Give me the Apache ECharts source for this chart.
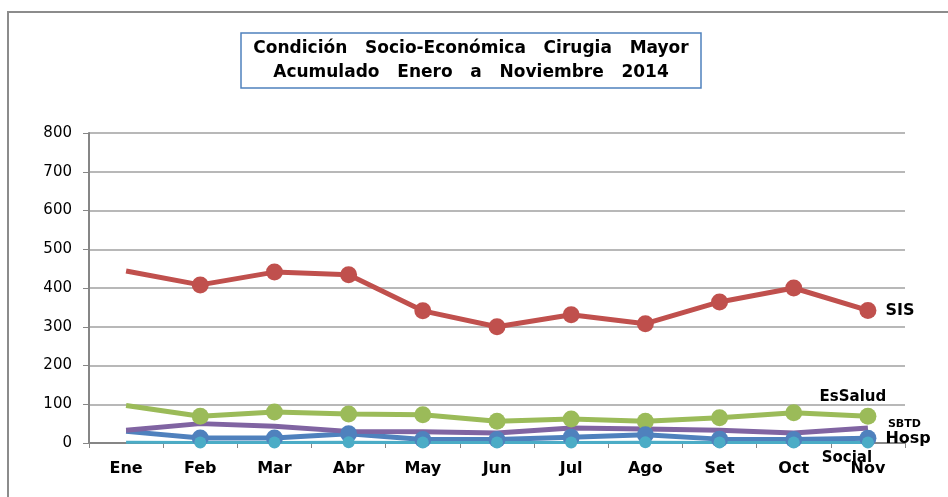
<!DOCTYPE html>
<html>
<head>
<meta charset="utf-8">
<script src="https://cdn.jsdelivr.net/npm/echarts@6/dist/echarts.min.js"></script>
<style>
  html, body { margin: 0; padding: 0; background: #fff; }
  #main { width: 948px; height: 497px; }
</style>
</head>
<body>
<div id="main"></div>
<script>
  // datos
  var meses = ['Ene', 'Feb', 'Mar', 'Abr', 'May', 'Jun', 'Jul', 'Ago', 'Set', 'Oct', 'Nov'];
  var sis     = [444, 408, 441, 434, 341, 300, 331, 308, 364, 400, 342];
  var esSalud = [97, 69, 80, 75, 73, 56, 62, 56, 65, 78, 69];
  var sbtd    = [33, 50, 43, 30, 29, 26, 39, 36, 33, 26, 39];
  var hosp    = [30, 13, 13, 24, 9, 9, 15, 21, 10, 9, 12];
  var social  = [2, 1, 1, 2, 1, 1, 1, 2, 1, 1, 1];
  var yTicks  = [0, 100, 200, 300, 400, 500, 600, 700, 800];

  var font = 'DejaVu Sans, Verdana, sans-serif';

  // primer punto sin marcador, ultimo con etiqueta
  function puntos(arr, label) {
    return arr.map(function (v, i) {
      var d = { value: v };
      if (i === 0) d.symbol = 'none';
      if (i === arr.length - 1 && label) d.label = label;
      return d;
    });
  }

  function etiqueta(texto, pos, extra) {
    var l = {
      show: true,
      formatter: texto,
      position: pos,
      color: '#000',
      fontWeight: 'bold',
      fontFamily: font,
      fontSize: 15
    };
    for (var k in extra) l[k] = extra[k];
    return l;
  }

  var chart = echarts.init(document.getElementById('main'));

  chart.setOption({
    animation: false,
    graphic: [
      {
        type: 'rect',
        shape: { x: 8, y: 12, width: 960, height: 500 },
        style: { fill: 'none', stroke: '#8c8c8c', lineWidth: 2 },
        silent: true
      },
      {
        type: 'rect',
        shape: { x: 241, y: 33, width: 460, height: 55 },
        style: { fill: '#fff', stroke: '#4f81bd', lineWidth: 1.5 }
      },
      {
        type: 'text',
        x: 471, y: 61,
        style: {
          text: 'Condición   Socio-Económica   Cirugia   Mayor\nAcumulado   Enero   a   Noviembre   2014',
          align: 'center',
          verticalAlign: 'middle',
          font: 'bold 17px ' + font,
          fill: '#000',
          lineHeight: 24
        }
      }
    ],
    grid: { left: 89, right: 43, top: 133, bottom: 54, containLabel: false },
    xAxis: {
      type: 'category',
      data: meses,
      boundaryGap: true,
      axisLine: { lineStyle: { color: '#868686', width: 2 } },
      axisTick: { show: true, length: 5, lineStyle: { color: '#868686' } },
      axisLabel: { color: '#000', fontWeight: 'bold', fontFamily: font, fontSize: 16, margin: 18 },
      splitLine: { show: false }
    },
    yAxis: {
      type: 'value',
      min: yTicks[0],
      max: yTicks[yTicks.length - 1],
      interval: 100,
      axisLine: { show: true, lineStyle: { color: '#868686', width: 2 } },
      axisTick: { show: true, length: 6, inside: false, lineStyle: { color: '#868686' } },
      axisLabel: { color: '#000', fontFamily: font, fontSize: 15, margin: 17 },
      splitLine: { show: true, lineStyle: { color: '#a0a0a0', width: 1.5 } }
    },
    series: [
      {
        name: 'SIS',
        type: 'line',
        data: puntos(sis, etiqueta('SIS', 'right', { distance: 9, fontSize: 16 })),
        symbol: 'circle',
        symbolSize: 17,
        itemStyle: { color: '#c0504d' },
        lineStyle: { color: '#c0504d', width: 5 }
      },
      {
        name: 'EsSalud',
        type: 'line',
        data: puntos(esSalud, etiqueta('EsSalud', 'top', { distance: 3, offset: [-15, 0] })),
        symbol: 'circle',
        symbolSize: 17,
        itemStyle: { color: '#9bbb59' },
        lineStyle: { color: '#9bbb59', width: 5 }
      },
      {
        name: 'Hosp',
        type: 'line',
        data: puntos(hosp, etiqueta('Hosp', 'right', { distance: 9, fontSize: 16 })),
        symbol: 'circle',
        symbolSize: 17,
        itemStyle: { color: '#4f81bd' },
        lineStyle: { color: '#4f81bd', width: 5 }
      },
      {
        name: 'SBTD',
        type: 'line',
        data: sbtd,
        symbol: 'none',
        itemStyle: { color: '#8064a2' },
        lineStyle: { color: '#8064a2', width: 5 },
        endLabel: {
          show: true,
          formatter: 'SBTD',
          color: '#000',
          fontWeight: 'bold',
          fontFamily: font,
          fontSize: 11,
          distance: 20,
          offset: [0, -4]
        }
      },
      {
        name: 'Social',
        type: 'line',
        data: puntos(social, etiqueta('Social', 'bottom', { distance: 2, offset: [-21, 0] })),
        symbol: 'circle',
        symbolSize: 12,
        itemStyle: { color: '#4bacc6' },
        lineStyle: { color: '#4bacc6', width: 3 }
      }
    ]
  });
</script>
</body>
</html>
